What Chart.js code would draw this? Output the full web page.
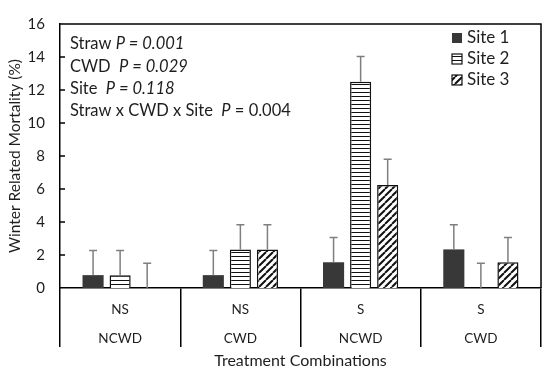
<!DOCTYPE html>
<html>
<head>
<meta charset="utf-8">
<script src="https://cdn.jsdelivr.net/npm/chart.js@4.4.1/dist/chart.umd.min.js"></script>
<style>
  html, body { margin: 0; padding: 0; background: #fff; }
</style>
</head>
<body>
<canvas id="chart" width="550" height="374"></canvas>
<script>
// data
const strawLabels = ['NS', 'NS', 'S', 'S'];
const cwdLabels = ['NCWD', 'CWD', 'NCWD', 'CWD'];
const siteNames = ['Site 1', 'Site 2', 'Site 3'];
const site1 = [0.78, 0.78, 1.56, 2.34];
const site2 = [0.78, 2.34, 12.5, 0];
const site3 = [0, 2.34, 6.25, 1.56];
const site1Err = [1.5, 1.5, 1.5, 1.5];
const site2Err = [1.5, 1.5, 1.53, 1.5];
const site3Err = [1.5, 1.5, 1.55, 1.5];
const notes = [
  ['Straw ', 'P = 0.001', ''],
  ['CWD  ', 'P = 0.029', ''],
  ['Site  ', 'P = 0.118', ''],
  ['Straw x CWD x Site  ', 'P', ' = 0.004']
];

const FONT = 'Lato, "Liberation Sans", sans-serif';
const TEXT = '#1e1e1e';

function hatch(kind) {
  const c = document.createElement('canvas');
  const s = kind === 'h' ? 4 : 7;
  c.width = s; c.height = s;
  const g = c.getContext('2d');
  g.fillStyle = '#fff';
  g.fillRect(0, 0, s, s);
  g.strokeStyle = '#111';
  if (kind === 'h') {
    g.lineWidth = 1;
    g.beginPath(); g.moveTo(0, 0.5); g.lineTo(s, 0.5); g.stroke();
  } else {
    g.lineWidth = 2;
    g.beginPath();
    for (let k = -1; k <= 1; k++) {
      g.moveTo(k * s, s); g.lineTo(k * s + s, 0);
    }
    g.stroke();
  }
  return g.createPattern(c, 'repeat');
}

const errors = [site1Err, site2Err, site3Err];

const extras = {
  id: 'extras',
  afterDatasetsDraw(chart) {
    const ctx = chart.ctx, y = chart.scales.y, a = chart.chartArea;
    ctx.save();
    // error bars (upper only)
    ctx.strokeStyle = '#7f7f7f';
    ctx.lineWidth = 1.5;
    chart.data.datasets.forEach((ds, i) => {
      chart.getDatasetMeta(i).data.forEach((bar, j) => {
        const top = y.getPixelForValue(ds.data[j] + errors[i][j]);
        ctx.beginPath();
        ctx.moveTo(bar.x, bar.y);
        ctx.lineTo(bar.x, top);
        ctx.moveTo(bar.x - 4, top);
        ctx.lineTo(bar.x + 4, top);
        ctx.stroke();
      });
    });
    // frame top + right, inner y ticks
    ctx.strokeStyle = '#000';
    ctx.beginPath();
    ctx.moveTo(a.left, a.top); ctx.lineTo(a.right, a.top); ctx.lineTo(a.right, a.bottom);
    y.ticks.forEach(t => {
      if (t.value === 0 || t.value === 16) return;
      const py = y.getPixelForValue(t.value);
      ctx.moveTo(a.left, py); ctx.lineTo(a.left + 5, py);
    });
    ctx.stroke();

    // statistics text
    ctx.fillStyle = TEXT;
    ctx.textBaseline = 'middle';
    notes.forEach((n, k) => {
      let x = a.left + 10;
      const py = a.top + 20 + k * 22.3;
      ctx.font = '16.5px ' + FONT;
      ctx.fillText(n[0], x, py); x += ctx.measureText(n[0]).width;
      ctx.font = 'italic 16.5px ' + FONT;
      ctx.fillText(n[1], x, py); x += ctx.measureText(n[1]).width;
      ctx.font = '16.5px ' + FONT;
      ctx.fillText(n[2], x, py);
    });

    // legend
    chart.data.datasets.forEach((ds, i) => {
      const py = a.top + 14 + i * 21;
      ctx.fillStyle = ds.backgroundColor;
      ctx.fillRect(452, py - 5, 10, 10);
      if (i > 0) {
        ctx.lineWidth = 1.2;
        ctx.strokeStyle = '#111';
        ctx.strokeRect(452, py - 5, 10, 10);
      }
      ctx.fillStyle = TEXT;
      ctx.font = '17px ' + FONT;
      ctx.fillText(ds.label, 467, py);
    });
    ctx.restore();
  }
};

new Chart(document.getElementById('chart'), {
  type: 'bar',
  data: {
    labels: strawLabels.map((s, i) => [s, cwdLabels[i]]),
    datasets: [
      { label: siteNames[0], data: site1, backgroundColor: '#383838', borderWidth: 0 },
      { label: siteNames[1], data: site2, backgroundColor: hatch('h'), borderColor: '#111', borderWidth: 1.5 },
      { label: siteNames[2], data: site3, backgroundColor: hatch('d'), borderColor: '#111', borderWidth: 1.5 }
    ]
  },
  options: {
    responsive: false,
    animation: false,
    categoryPercentage: 0.675,
    barPercentage: 0.78,
    layout: { padding: { top: 15, right: 9, left: 0, bottom: 0 } },
    plugins: {
      legend: { display: false },
      tooltip: { enabled: false }
    },
    scales: {
      x: {
        afterFit(scale) { scale.height = 86; },
        grid: { display: true, drawOnChartArea: false, drawTicks: true, tickLength: 59, color: '#000', lineWidth: 1.5, offset: true },
        border: { display: true, color: '#000', width: 1.5 },
        ticks: { color: TEXT, font: { family: FONT, size: 13.5, lineHeight: 2.15 }, padding: -52, maxRotation: 0, autoSkip: false },
        title: { display: true, text: 'Treatment Combinations', color: TEXT, font: { family: FONT, size: 16 }, padding: { top: 0, bottom: 4 } }
      },
      y: {
        min: 0,
        max: 16,
        afterFit(scale) { scale.width = 60; },
        grid: { display: false, drawTicks: false },
        border: { display: true, color: '#000', width: 1.5 },
        ticks: { stepSize: 2, color: TEXT, padding: 15, font: { family: FONT, size: 15 } },
        title: { display: true, text: 'Winter Related Mortality (%)', color: TEXT, font: { family: FONT, size: 15.5 }, padding: { top: 6, bottom: 4 } }
      }
    }
  },
  plugins: [extras]
});
</script>
</body>
</html>
